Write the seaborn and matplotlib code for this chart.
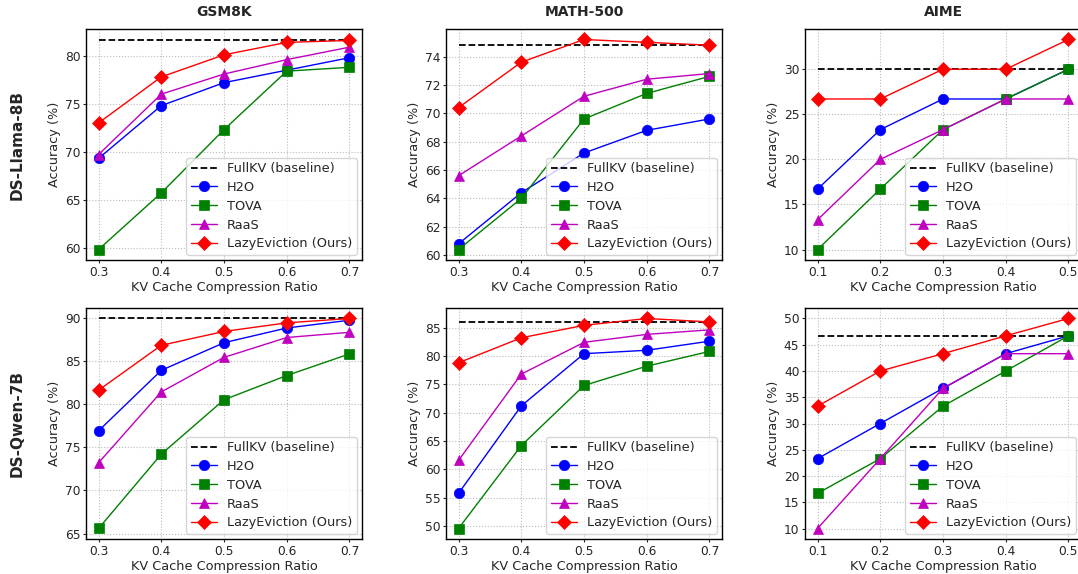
import matplotlib
matplotlib.use("Agg")
import matplotlib.pyplot as plt
from matplotlib.ticker import MultipleLocator
import seaborn as sns

sns.set_theme(style="ticks")
plt.rcParams["font.family"] = ["DejaVu Sans"]

# compression ratios per benchmark
ratios_math = [0.3, 0.4, 0.5, 0.6, 0.7]
ratios_aime = [0.1, 0.2, 0.3, 0.4, 0.5]

benchmarks = ["GSM8K", "MATH-500", "AIME"]
models = ["DS-Llama-8B", "DS-Qwen-7B"]
methods = ["H2O", "TOVA", "RaaS", "LazyEviction (Ours)"]

# DS-Llama-8B
llama_full = [81.7, 74.8, 30.0]
llama_gsm8k = {
    "H2O": [69.3, 74.8, 77.2, 78.5, 79.8],
    "TOVA": [59.8, 65.7, 72.3, 78.4, 78.8],
    "RaaS": [69.7, 76.0, 78.1, 79.6, 80.9],
    "LazyEviction (Ours)": [73.0, 77.8, 80.1, 81.4, 81.6],
}
llama_math = {
    "H2O": [60.8, 64.4, 67.2, 68.8, 69.6],
    "TOVA": [60.4, 64.0, 69.6, 71.4, 72.6],
    "RaaS": [65.6, 68.4, 71.2, 72.4, 72.8],
    "LazyEviction (Ours)": [70.4, 73.6, 75.2, 75.0, 74.8],
}
llama_aime = {
    "H2O": [16.7, 23.3, 26.7, 26.7, 30.0],
    "TOVA": [10.0, 16.7, 23.3, 26.7, 30.0],
    "RaaS": [13.3, 20.0, 23.3, 26.7, 26.7],
    "LazyEviction (Ours)": [26.7, 26.7, 30.0, 30.0, 33.3],
}

# DS-Qwen-7B
qwen_full = [89.9, 86.0, 46.7]
qwen_gsm8k = {
    "H2O": [76.9, 83.9, 87.1, 88.8, 89.7],
    "TOVA": [65.6, 74.2, 80.5, 83.3, 85.8],
    "RaaS": [73.2, 81.4, 85.4, 87.7, 88.3],
    "LazyEviction (Ours)": [81.6, 86.8, 88.4, 89.4, 89.9],
}
qwen_math = {
    "H2O": [55.8, 71.2, 80.4, 81.0, 82.6],
    "TOVA": [49.6, 64.2, 74.8, 78.2, 80.8],
    "RaaS": [61.6, 76.8, 82.4, 83.8, 84.6],
    "LazyEviction (Ours)": [78.8, 83.2, 85.4, 86.6, 86.0],
}
qwen_aime = {
    "H2O": [23.3, 30.0, 36.7, 43.3, 46.7],
    "TOVA": [16.7, 23.3, 33.3, 40.0, 46.7],
    "RaaS": [10.0, 23.3, 36.7, 43.3, 43.3],
    "LazyEviction (Ours)": [33.3, 40.0, 43.3, 46.7, 50.0],
}

results = [[llama_gsm8k, llama_math, llama_aime], [qwen_gsm8k, qwen_math, qwen_aime]]
full = [llama_full, qwen_full]
xs = [ratios_math, ratios_math, ratios_aime]
ystep = [[5, 2, 5], [5, 5, 5]]

colors = {"H2O": "#0000ff", "TOVA": "#008000", "RaaS": "#bf00bf", "LazyEviction (Ours)": "#ff0000"}
markers = {"H2O": "o", "TOVA": "s", "RaaS": "^", "LazyEviction (Ours)": "D"}

W, H = 1078, 574
fig = plt.figure(figsize=(W / 100, H / 100), dpi=100)
lefts = [86, 446, 805]
tops = [29, 308]
aw, ah = 276, 231

for r in range(2):
    for c in range(3):
        ax = fig.add_axes([lefts[c] / W, 1 - (tops[r] + ah) / H, aw / W, ah / H])
        x = xs[c]
        ax.plot([x[0], x[-1]], [full[r][c]] * 2, color="black", linestyle="--",
                linewidth=1.3, label="FullKV (baseline)")
        for m in methods:
            sns.lineplot(x=x, y=results[r][c][m], ax=ax, color=colors[m], marker=markers[m],
                         markersize=7.5, markeredgecolor=colors[m], markeredgewidth=0.5,
                         linewidth=1, label=m)
        ax.set_xticks(x)
        ax.yaxis.set_major_locator(MultipleLocator(ystep[r][c]))
        ax.grid(True, linestyle=":", color="#bbbbbb", linewidth=0.8)
        ax.tick_params(labelsize=8.8, length=2.5, width=0.8, pad=1.5)
        for s in ax.spines.values():
            s.set_linewidth(1)
            s.set_color("black")
        ax.set_xlabel("KV Cache Compression Ratio", fontsize=9.3, labelpad=1.5)
        ax.set_ylabel("Accuracy (%)", fontsize=9.3, labelpad=2.5)
        ax.legend(loc="lower right", fontsize=9.3, framealpha=0.8, borderaxespad=0.4,
                  handlelength=2.0, labelspacing=0.45, borderpad=0.35)
        if r == 0:
            ax.set_title(benchmarks[c], fontsize=10, fontweight="bold", pad=9)

for r, name in enumerate(models):
    yc = tops[r] + ah / 2
    fig.text(17 / W, 1 - yc / H, name, rotation=90, ha="center", va="center",
             fontsize=11, fontweight="bold")

fig.savefig("out.png", dpi=100)
